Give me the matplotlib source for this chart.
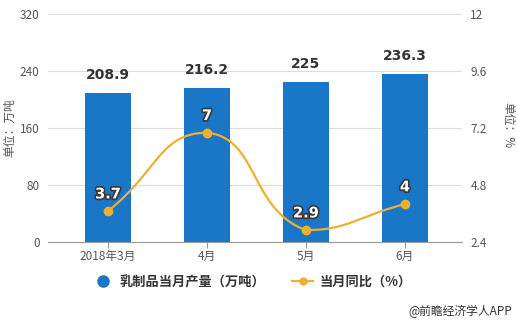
import numpy as np
import matplotlib
matplotlib.use("Agg")
import matplotlib.pyplot as plt
from matplotlib.lines import Line2D
import matplotlib.patheffects as pe

plt.rcParams['font.family'] = ['Noto Sans CJK SC', 'DejaVu Sans']

months = ["2018年3月", "4月", "5月", "6月"]
output = [208.9, 216.2, 225, 236.3]      # 乳制品当月产量（万吨）
yoy = [3.7, 7, 2.9, 4]                   # 当月同比（%）
left_ticks = [0, 80, 160, 240, 320]
right_ticks = [2.4, 4.8, 7.2, 9.6, 12]

BAR = "#1A76C7"
LINE = "#EDB031"
TXT = "#555555"

fig = plt.figure(figsize=(5.17, 3.26), dpi=100)
ax = fig.add_axes([48 / 517, 1 - 242 / 326, (462 - 48) / 517, (242 - 14) / 326])
ax2 = ax.twinx()

x = np.arange(len(months))
ax.bar(x, output, width=0.47, color=BAR, zorder=2)
ax.set_xlim(-0.606, 3.576)
ax.set_ylim(0, 320)
ax.set_yticks(left_ticks)
ax.set_xticks(x)
ax.set_xticklabels(months)
ax.grid(axis="y", color="#dcdcdc", linewidth=0.8, zorder=0)
ax.set_axisbelow(True)
for s in ["top", "left", "right"]:
    ax.spines[s].set_visible(False)
ax.spines["bottom"].set_color("#999999")
ax.tick_params(axis="y", length=0, labelsize=8.5, labelcolor=TXT, pad=6)
ax.tick_params(axis="x", length=4, color="#999999", labelsize=8.5, labelcolor=TXT, pad=2)

for xi, v in zip(x, output):
    ax.annotate(f"{v:g}", (xi, v), xytext=(0, 8), textcoords="offset points",
                ha="center", va="bottom", fontsize=10, fontweight="bold",
                color="#333333", family="DejaVu Sans")

ax2.set_ylim(2.4, 12)
ax2.set_yticks(right_ticks)
ax2.set_yticklabels([f"{t:g}" for t in right_ticks])
for s in ["top", "left", "right", "bottom"]:
    ax2.spines[s].set_visible(False)
ax2.tick_params(axis="y", length=0, labelsize=8.5, labelcolor=TXT, pad=6)

# smooth curve through the points; bezier control points are computed in screen
# space and clamped to the points' bounding box so the curve never overshoots
pts = ax2.transData.transform(np.column_stack([x, yoy]))
lo, hi = pts.min(axis=0), pts.max(axis=0)
n = len(pts)
smooth = 0.5
cps = []
for i in range(n):
    p = pts[i]
    prev = pts[i - 1] if i > 0 else p
    nxt = pts[i + 1] if i < n - 1 else p
    v = nxt - prev
    d0 = np.linalg.norm(p - prev)
    d1 = np.linalg.norm(p - nxt)
    tot = d0 + d1 if d0 + d1 > 0 else 1
    c0 = np.clip(p - v * smooth * d0 / tot, lo, hi)
    c1 = np.clip(p + v * smooth * d1 / tot, lo, hi)
    cps.append((c0, c1))
curve = []
t = np.linspace(0, 1, 60)[:, None]
for i in range(n - 1):
    p0, p3 = pts[i], pts[i + 1]
    c1, c2 = cps[i][1], cps[i + 1][0]
    seg = (1 - t) ** 3 * p0 + 3 * (1 - t) ** 2 * t * c1 + 3 * (1 - t) * t ** 2 * c2 + t ** 3 * p3
    curve.append(seg)
curve = ax2.transData.inverted().transform(np.vstack(curve))
ax2.plot(curve[:, 0], curve[:, 1], color=LINE, linewidth=1.6, zorder=3)
ax2.plot(x, yoy, "o", color=LINE, markersize=6, zorder=4)

for xi, v in zip(x, yoy):
    ax2.annotate(f"{v:g}", (xi, v), xytext=(0, 7), textcoords="offset points",
                 ha="center", va="bottom", fontsize=10.5, fontweight="bold",
                 color="white", family="DejaVu Sans",
                 path_effects=[pe.withStroke(linewidth=2.5, foreground="#3a3a3a")])

fig.text(10 / 517, 1 - 128 / 326, "单位：万吨", rotation=90, ha="center", va="center",
         fontsize=8.5, color=TXT)
fig.text(508 / 517, 1 - 125 / 326, "单位：%", rotation=-90, ha="center", va="center",
         fontsize=8.5, color=TXT)

handles = [
    Line2D([], [], marker="o", linestyle="none", color=BAR, markersize=8),
    Line2D([], [], marker="o", linestyle="-", color=LINE, markersize=5, linewidth=1.6),
]
fig.legend(handles, ["乳制品当月产量（万吨）", "当月同比（%）"], loc="center",
           bbox_to_anchor=(252 / 517, 1 - 282 / 326), ncol=2, frameon=False,
           prop={"size": 9.5, "weight": "bold"}, labelcolor="#333333",
           handlelength=1.6, columnspacing=2.0, handletextpad=0.5)

fig.text(512 / 517, 1 - 311 / 326, "@前瞻经济学人APP", ha="right", va="center",
         fontsize=8.5, color="#333333")

fig.savefig("out.png", dpi=100, facecolor="white")
